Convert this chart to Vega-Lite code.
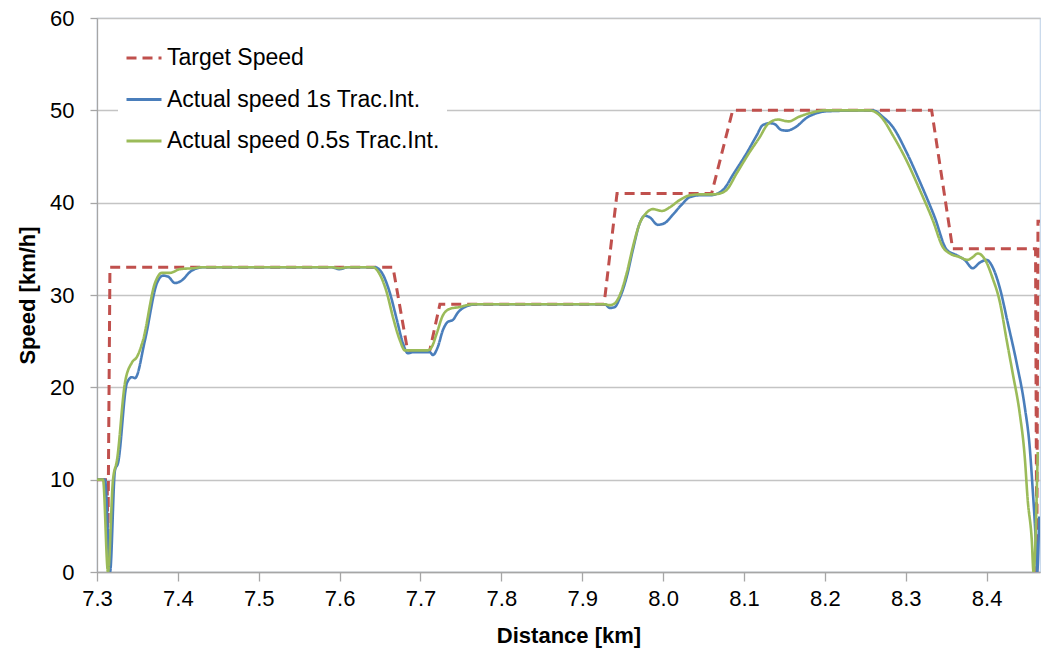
{
  "$schema": "https://vega.github.io/schema/vega-lite/v6.json",
  "width": 943,
  "height": 554,
  "autosize": {"type": "none"},
  "padding": {"left": 97, "top": 18, "right": 2, "bottom": 78},
  "background": "white",
  "config": {
    "view": {"stroke": "#c5d6ea", "strokeWidth": 1.2},
    "font": "Liberation Sans",
    "axis": {"labelFont": "Liberation Sans", "titleFont": "Liberation Sans", "labelColor": "#000", "titleColor": "#000", "labelFlush": false}
  },
  "datasets": {
    "speeds": [
      {"series": "Target Speed", "d": 7.300, "v": 10},
      {"series": "Target Speed", "d": 7.3125, "v": 10},
      {"series": "Target Speed", "d": 7.3135, "v": 3},
      {"series": "Target Speed", "d": 7.3160, "v": 33},
      {"series": "Target Speed", "d": 7.6660, "v": 33},
      {"series": "Target Speed", "d": 7.6840, "v": 24},
      {"series": "Target Speed", "d": 7.7115, "v": 24},
      {"series": "Target Speed", "d": 7.7240, "v": 29},
      {"series": "Target Speed", "d": 7.9270, "v": 29},
      {"series": "Target Speed", "d": 7.9430, "v": 41},
      {"series": "Target Speed", "d": 8.0600, "v": 41},
      {"series": "Target Speed", "d": 8.0860, "v": 50},
      {"series": "Target Speed", "d": 8.3320, "v": 50},
      {"series": "Target Speed", "d": 8.3580, "v": 35},
      {"series": "Target Speed", "d": 8.4605, "v": 35},
      {"series": "Target Speed", "d": 8.4620, "v": 0},
      {"series": "Target Speed", "d": 8.4635, "v": 38},
      {"series": "Target Speed", "d": 8.4700, "v": 38},

      {"series": "Actual speed 1s Trac.Int.", "d": 7.3000, "v": 10},
      {"series": "Actual speed 1s Trac.Int.", "d": 7.3099, "v": 10},
      {"series": "Actual speed 1s Trac.Int.", "d": 7.3161, "v": 0},
      {"series": "Actual speed 1s Trac.Int.", "d": 7.3222, "v": 11},
      {"series": "Actual speed 1s Trac.Int.", "d": 7.3260, "v": 11.8},
      {"series": "Actual speed 1s Trac.Int.", "d": 7.3371, "v": 20.5},
      {"series": "Actual speed 1s Trac.Int.", "d": 7.3433, "v": 21.1},
      {"series": "Actual speed 1s Trac.Int.", "d": 7.3470, "v": 21},
      {"series": "Actual speed 1s Trac.Int.", "d": 7.3593, "v": 25.1},
      {"series": "Actual speed 1s Trac.Int.", "d": 7.3742, "v": 31.3},
      {"series": "Actual speed 1s Trac.Int.", "d": 7.3816, "v": 32.1},
      {"series": "Actual speed 1s Trac.Int.", "d": 7.3878, "v": 32},
      {"series": "Actual speed 1s Trac.Int.", "d": 7.3964, "v": 31.3},
      {"series": "Actual speed 1s Trac.Int.", "d": 7.4051, "v": 31.6},
      {"series": "Actual speed 1s Trac.Int.", "d": 7.4150, "v": 32.5},
      {"series": "Actual speed 1s Trac.Int.", "d": 7.4236, "v": 32.9},
      {"series": "Actual speed 1s Trac.Int.", "d": 7.4300, "v": 33},
      {"series": "Actual speed 1s Trac.Int.", "d": 7.5900, "v": 33},
      {"series": "Actual speed 1s Trac.Int.", "d": 7.6000, "v": 32.8},
      {"series": "Actual speed 1s Trac.Int.", "d": 7.6100, "v": 33},
      {"series": "Actual speed 1s Trac.Int.", "d": 7.6436, "v": 33},
      {"series": "Actual speed 1s Trac.Int.", "d": 7.6523, "v": 32.4},
      {"series": "Actual speed 1s Trac.Int.", "d": 7.6622, "v": 30.2},
      {"series": "Actual speed 1s Trac.Int.", "d": 7.6708, "v": 27.3},
      {"series": "Actual speed 1s Trac.Int.", "d": 7.6782, "v": 24.8},
      {"series": "Actual speed 1s Trac.Int.", "d": 7.6844, "v": 23.7},
      {"series": "Actual speed 1s Trac.Int.", "d": 7.6906, "v": 23.8},
      {"series": "Actual speed 1s Trac.Int.", "d": 7.7116, "v": 23.8},
      {"series": "Actual speed 1s Trac.Int.", "d": 7.7153, "v": 23.5},
      {"series": "Actual speed 1s Trac.Int.", "d": 7.7215, "v": 24.4},
      {"series": "Actual speed 1s Trac.Int.", "d": 7.7277, "v": 26.2},
      {"series": "Actual speed 1s Trac.Int.", "d": 7.7339, "v": 27.1},
      {"series": "Actual speed 1s Trac.Int.", "d": 7.7400, "v": 27.3},
      {"series": "Actual speed 1s Trac.Int.", "d": 7.7462, "v": 28.1},
      {"series": "Actual speed 1s Trac.Int.", "d": 7.7549, "v": 28.7},
      {"series": "Actual speed 1s Trac.Int.", "d": 7.7611, "v": 28.9},
      {"series": "Actual speed 1s Trac.Int.", "d": 7.7700, "v": 29},
      {"series": "Actual speed 1s Trac.Int.", "d": 7.9279, "v": 29},
      {"series": "Actual speed 1s Trac.Int.", "d": 7.9341, "v": 28.6},
      {"series": "Actual speed 1s Trac.Int.", "d": 7.9403, "v": 28.7},
      {"series": "Actual speed 1s Trac.Int.", "d": 7.9465, "v": 29.7},
      {"series": "Actual speed 1s Trac.Int.", "d": 7.9551, "v": 32},
      {"series": "Actual speed 1s Trac.Int.", "d": 7.9626, "v": 34.9},
      {"series": "Actual speed 1s Trac.Int.", "d": 7.9712, "v": 37.8},
      {"series": "Actual speed 1s Trac.Int.", "d": 7.9774, "v": 38.6},
      {"series": "Actual speed 1s Trac.Int.", "d": 7.9836, "v": 38.4},
      {"series": "Actual speed 1s Trac.Int.", "d": 7.9935, "v": 37.6},
      {"series": "Actual speed 1s Trac.Int.", "d": 8.0021, "v": 37.8},
      {"series": "Actual speed 1s Trac.Int.", "d": 8.0120, "v": 38.7},
      {"series": "Actual speed 1s Trac.Int.", "d": 8.0231, "v": 39.8},
      {"series": "Actual speed 1s Trac.Int.", "d": 8.0330, "v": 40.6},
      {"series": "Actual speed 1s Trac.Int.", "d": 8.0454, "v": 40.8},
      {"series": "Actual speed 1s Trac.Int.", "d": 8.0577, "v": 40.8},
      {"series": "Actual speed 1s Trac.Int.", "d": 8.0676, "v": 41},
      {"series": "Actual speed 1s Trac.Int.", "d": 8.0763, "v": 41.6},
      {"series": "Actual speed 1s Trac.Int.", "d": 8.0862, "v": 43},
      {"series": "Actual speed 1s Trac.Int.", "d": 8.1035, "v": 45.4},
      {"series": "Actual speed 1s Trac.Int.", "d": 8.1158, "v": 47.3},
      {"series": "Actual speed 1s Trac.Int.", "d": 8.1232, "v": 48.4},
      {"series": "Actual speed 1s Trac.Int.", "d": 8.1319, "v": 48.6},
      {"series": "Actual speed 1s Trac.Int.", "d": 8.1381, "v": 48.5},
      {"series": "Actual speed 1s Trac.Int.", "d": 8.1455, "v": 47.9},
      {"series": "Actual speed 1s Trac.Int.", "d": 8.1529, "v": 47.8},
      {"series": "Actual speed 1s Trac.Int.", "d": 8.1641, "v": 48.2},
      {"series": "Actual speed 1s Trac.Int.", "d": 8.1776, "v": 49.2},
      {"series": "Actual speed 1s Trac.Int.", "d": 8.1900, "v": 49.7},
      {"series": "Actual speed 1s Trac.Int.", "d": 8.2024, "v": 49.9},
      {"series": "Actual speed 1s Trac.Int.", "d": 8.2592, "v": 50},
      {"series": "Actual speed 1s Trac.Int.", "d": 8.2716, "v": 49.3},
      {"series": "Actual speed 1s Trac.Int.", "d": 8.2840, "v": 48.2},
      {"series": "Actual speed 1s Trac.Int.", "d": 8.3013, "v": 45.4},
      {"series": "Actual speed 1s Trac.Int.", "d": 8.3173, "v": 42.3},
      {"series": "Actual speed 1s Trac.Int.", "d": 8.3359, "v": 38.4},
      {"series": "Actual speed 1s Trac.Int.", "d": 8.3507, "v": 34.9},
      {"series": "Actual speed 1s Trac.Int.", "d": 8.3631, "v": 34.3},
      {"series": "Actual speed 1s Trac.Int.", "d": 8.3729, "v": 33.8},
      {"series": "Actual speed 1s Trac.Int.", "d": 8.3828, "v": 32.9},
      {"series": "Actual speed 1s Trac.Int.", "d": 8.3915, "v": 33.5},
      {"series": "Actual speed 1s Trac.Int.", "d": 8.4001, "v": 33.8},
      {"series": "Actual speed 1s Trac.Int.", "d": 8.4075, "v": 33},
      {"series": "Actual speed 1s Trac.Int.", "d": 8.4162, "v": 30.8},
      {"series": "Actual speed 1s Trac.Int.", "d": 8.4261, "v": 27},
      {"series": "Actual speed 1s Trac.Int.", "d": 8.4372, "v": 22.6},
      {"series": "Actual speed 1s Trac.Int.", "d": 8.4471, "v": 17.9},
      {"series": "Actual speed 1s Trac.Int.", "d": 8.4533, "v": 13.5},
      {"series": "Actual speed 1s Trac.Int.", "d": 8.4570, "v": 8.9},
      {"series": "Actual speed 1s Trac.Int.", "d": 8.4607, "v": 3.5},
      {"series": "Actual speed 1s Trac.Int.", "d": 8.4625, "v": 0},
      {"series": "Actual speed 1s Trac.Int.", "d": 8.4650, "v": 6},

      {"series": "Actual speed 0.5s Trac.Int.", "d": 7.3000, "v": 10},
      {"series": "Actual speed 0.5s Trac.Int.", "d": 7.3074, "v": 10},
      {"series": "Actual speed 0.5s Trac.Int.", "d": 7.3136, "v": 0},
      {"series": "Actual speed 0.5s Trac.Int.", "d": 7.3198, "v": 10},
      {"series": "Actual speed 0.5s Trac.Int.", "d": 7.3247, "v": 12.1},
      {"series": "Actual speed 0.5s Trac.Int.", "d": 7.3346, "v": 20.5},
      {"series": "Actual speed 0.5s Trac.Int.", "d": 7.3433, "v": 22.7},
      {"series": "Actual speed 0.5s Trac.Int.", "d": 7.3494, "v": 23.3},
      {"series": "Actual speed 0.5s Trac.Int.", "d": 7.3569, "v": 25.1},
      {"series": "Actual speed 0.5s Trac.Int.", "d": 7.3717, "v": 31.3},
      {"series": "Actual speed 0.5s Trac.Int.", "d": 7.3803, "v": 32.4},
      {"series": "Actual speed 0.5s Trac.Int.", "d": 7.3902, "v": 32.4},
      {"series": "Actual speed 0.5s Trac.Int.", "d": 7.4026, "v": 32.8},
      {"series": "Actual speed 0.5s Trac.Int.", "d": 7.4187, "v": 32.9},
      {"series": "Actual speed 0.5s Trac.Int.", "d": 7.4300, "v": 33},
      {"series": "Actual speed 0.5s Trac.Int.", "d": 7.5900, "v": 33},
      {"series": "Actual speed 0.5s Trac.Int.", "d": 7.6000, "v": 32.9},
      {"series": "Actual speed 0.5s Trac.Int.", "d": 7.6100, "v": 33},
      {"series": "Actual speed 0.5s Trac.Int.", "d": 7.6412, "v": 33},
      {"series": "Actual speed 0.5s Trac.Int.", "d": 7.6498, "v": 32.2},
      {"series": "Actual speed 0.5s Trac.Int.", "d": 7.6585, "v": 30.2},
      {"series": "Actual speed 0.5s Trac.Int.", "d": 7.6659, "v": 27.6},
      {"series": "Actual speed 0.5s Trac.Int.", "d": 7.6745, "v": 25.1},
      {"series": "Actual speed 0.5s Trac.Int.", "d": 7.6807, "v": 24},
      {"series": "Actual speed 0.5s Trac.Int.", "d": 7.7091, "v": 24},
      {"series": "Actual speed 0.5s Trac.Int.", "d": 7.7141, "v": 24.4},
      {"series": "Actual speed 0.5s Trac.Int.", "d": 7.7203, "v": 25.9},
      {"series": "Actual speed 0.5s Trac.Int.", "d": 7.7277, "v": 27.8},
      {"series": "Actual speed 0.5s Trac.Int.", "d": 7.7363, "v": 28.5},
      {"series": "Actual speed 0.5s Trac.Int.", "d": 7.7487, "v": 28.7},
      {"series": "Actual speed 0.5s Trac.Int.", "d": 7.7574, "v": 28.9},
      {"series": "Actual speed 0.5s Trac.Int.", "d": 7.7650, "v": 29},
      {"series": "Actual speed 0.5s Trac.Int.", "d": 7.9279, "v": 29},
      {"series": "Actual speed 0.5s Trac.Int.", "d": 7.9341, "v": 28.9},
      {"series": "Actual speed 0.5s Trac.Int.", "d": 7.9403, "v": 29.1},
      {"series": "Actual speed 0.5s Trac.Int.", "d": 7.9465, "v": 30},
      {"series": "Actual speed 0.5s Trac.Int.", "d": 7.9551, "v": 32.4},
      {"series": "Actual speed 0.5s Trac.Int.", "d": 7.9626, "v": 35.2},
      {"series": "Actual speed 0.5s Trac.Int.", "d": 7.9712, "v": 37.8},
      {"series": "Actual speed 0.5s Trac.Int.", "d": 7.9774, "v": 38.7},
      {"series": "Actual speed 0.5s Trac.Int.", "d": 7.9873, "v": 39.3},
      {"series": "Actual speed 0.5s Trac.Int.", "d": 7.9984, "v": 39.1},
      {"series": "Actual speed 0.5s Trac.Int.", "d": 8.0083, "v": 39.5},
      {"series": "Actual speed 0.5s Trac.Int.", "d": 8.0207, "v": 40.3},
      {"series": "Actual speed 0.5s Trac.Int.", "d": 8.0330, "v": 40.8},
      {"series": "Actual speed 0.5s Trac.Int.", "d": 8.0454, "v": 40.9},
      {"series": "Actual speed 0.5s Trac.Int.", "d": 8.0614, "v": 40.9},
      {"series": "Actual speed 0.5s Trac.Int.", "d": 8.0701, "v": 41},
      {"series": "Actual speed 0.5s Trac.Int.", "d": 8.0787, "v": 41.4},
      {"series": "Actual speed 0.5s Trac.Int.", "d": 8.0911, "v": 43.2},
      {"series": "Actual speed 0.5s Trac.Int.", "d": 8.1072, "v": 45.5},
      {"series": "Actual speed 0.5s Trac.Int.", "d": 8.1195, "v": 47.1},
      {"series": "Actual speed 0.5s Trac.Int.", "d": 8.1294, "v": 48.5},
      {"series": "Actual speed 0.5s Trac.Int.", "d": 8.1418, "v": 49},
      {"series": "Actual speed 0.5s Trac.Int.", "d": 8.1554, "v": 48.8},
      {"series": "Actual speed 0.5s Trac.Int.", "d": 8.1680, "v": 49.3},
      {"series": "Actual speed 0.5s Trac.Int.", "d": 8.1813, "v": 49.7},
      {"series": "Actual speed 0.5s Trac.Int.", "d": 8.1909, "v": 49.9},
      {"series": "Actual speed 0.5s Trac.Int.", "d": 8.2000, "v": 50},
      {"series": "Actual speed 0.5s Trac.Int.", "d": 8.2555, "v": 50},
      {"series": "Actual speed 0.5s Trac.Int.", "d": 8.2704, "v": 49.2},
      {"series": "Actual speed 0.5s Trac.Int.", "d": 8.2840, "v": 47.3},
      {"series": "Actual speed 0.5s Trac.Int.", "d": 8.3013, "v": 44.5},
      {"series": "Actual speed 0.5s Trac.Int.", "d": 8.3173, "v": 41.4},
      {"series": "Actual speed 0.5s Trac.Int.", "d": 8.3334, "v": 38.1},
      {"series": "Actual speed 0.5s Trac.Int.", "d": 8.3458, "v": 35.2},
      {"series": "Actual speed 0.5s Trac.Int.", "d": 8.3544, "v": 34.5},
      {"series": "Actual speed 0.5s Trac.Int.", "d": 8.3668, "v": 34.1},
      {"series": "Actual speed 0.5s Trac.Int.", "d": 8.3766, "v": 33.8},
      {"series": "Actual speed 0.5s Trac.Int.", "d": 8.3828, "v": 34.1},
      {"series": "Actual speed 0.5s Trac.Int.", "d": 8.3890, "v": 34.5},
      {"series": "Actual speed 0.5s Trac.Int.", "d": 8.3976, "v": 33.9},
      {"series": "Actual speed 0.5s Trac.Int.", "d": 8.4075, "v": 31.8},
      {"series": "Actual speed 0.5s Trac.Int.", "d": 8.4162, "v": 29.3},
      {"series": "Actual speed 0.5s Trac.Int.", "d": 8.4248, "v": 25.1},
      {"series": "Actual speed 0.5s Trac.Int.", "d": 8.4323, "v": 21.5},
      {"series": "Actual speed 0.5s Trac.Int.", "d": 8.4409, "v": 17.2},
      {"series": "Actual speed 0.5s Trac.Int.", "d": 8.4471, "v": 12.5},
      {"series": "Actual speed 0.5s Trac.Int.", "d": 8.4508, "v": 7.8},
      {"series": "Actual speed 0.5s Trac.Int.", "d": 8.4558, "v": 3.5},
      {"series": "Actual speed 0.5s Trac.Int.", "d": 8.4580, "v": 0},
      {"series": "Actual speed 0.5s Trac.Int.", "d": 8.4632, "v": 13}
    ]
  },
  "data": {"name": "speeds"},
  "encoding": {
    "x": {
      "field": "d", "type": "quantitative",
      "scale": {"domain": [7.3, 8.466], "nice": false, "zero": false},
      "axis": {
        "title": "Distance [km]", "values": [7.3, 7.4, 7.5, 7.6, 7.7, 7.8, 7.9, 8.0, 8.1, 8.2, 8.3, 8.4],
        "format": ".1f", "grid": false, "domainColor": "#a6a6a6", "domainWidth": 1.3,
        "tickColor": "#a6a6a6", "tickSize": 9, "tickWidth": 1.3,
        "labelFontSize": 22, "labelPadding": 7, "titleFontSize": 22, "titleFontWeight": "bold", "titlePadding": 16
      }
    },
    "y": {
      "field": "v", "type": "quantitative",
      "scale": {"domain": [0, 60], "nice": false},
      "axis": {
        "title": "Speed [km/h]", "values": [0, 10, 20, 30, 40, 50, 60],
        "grid": true, "gridColor": "#c4c4c4", "gridWidth": 1.3,
        "domainColor": "#a6a6a6", "domainWidth": 1.3,
        "tickColor": "#a6a6a6", "tickSize": 7, "tickWidth": 1.3,
        "labelFontSize": 22, "labelPadding": 16, "titleFontSize": 22, "titleFontWeight": "bold", "titlePadding": 10
      }
    },
    "color": {
      "field": "series", "type": "nominal",
      "scale": {
        "domain": ["Target Speed", "Actual speed 1s Trac.Int.", "Actual speed 0.5s Trac.Int."],
        "range": ["#c0504d", "#4a7ebb", "#9bbb59"]
      },
      "legend": {
        "title": null, "orient": "none", "legendX": 21, "legendY": 14,
        "fillColor": "white", "padding": 7,
        "symbolType": "stroke", "symbolSize": 1225, "symbolStrokeWidth": 3,
        "labelFontSize": 23, "labelFont": "Liberation Sans", "labelColor": "#000",
        "labelLimit": 0, "labelOffset": 4, "rowPadding": 10.5
      }
    },
    "strokeDash": {
      "field": "series", "type": "nominal",
      "scale": {
        "domain": ["Target Speed", "Actual speed 1s Trac.Int.", "Actual speed 0.5s Trac.Int."],
        "range": [[10, 6], [1, 0], [1, 0]]
      },
      "legend": null
    }
  },
  "layer": [
    {
      "transform": [{"filter": "datum.series === 'Target Speed'"}],
      "mark": {"type": "line", "strokeWidth": 3, "clip": true}
    },
    {
      "transform": [{"filter": "datum.series === 'Actual speed 1s Trac.Int.'"}],
      "mark": {"type": "line", "strokeWidth": 2.6, "interpolate": "monotone", "clip": true}
    },
    {
      "transform": [{"filter": "datum.series === 'Actual speed 0.5s Trac.Int.'"}],
      "mark": {"type": "line", "strokeWidth": 2.6, "interpolate": "monotone", "clip": true}
    }
  ]
}
